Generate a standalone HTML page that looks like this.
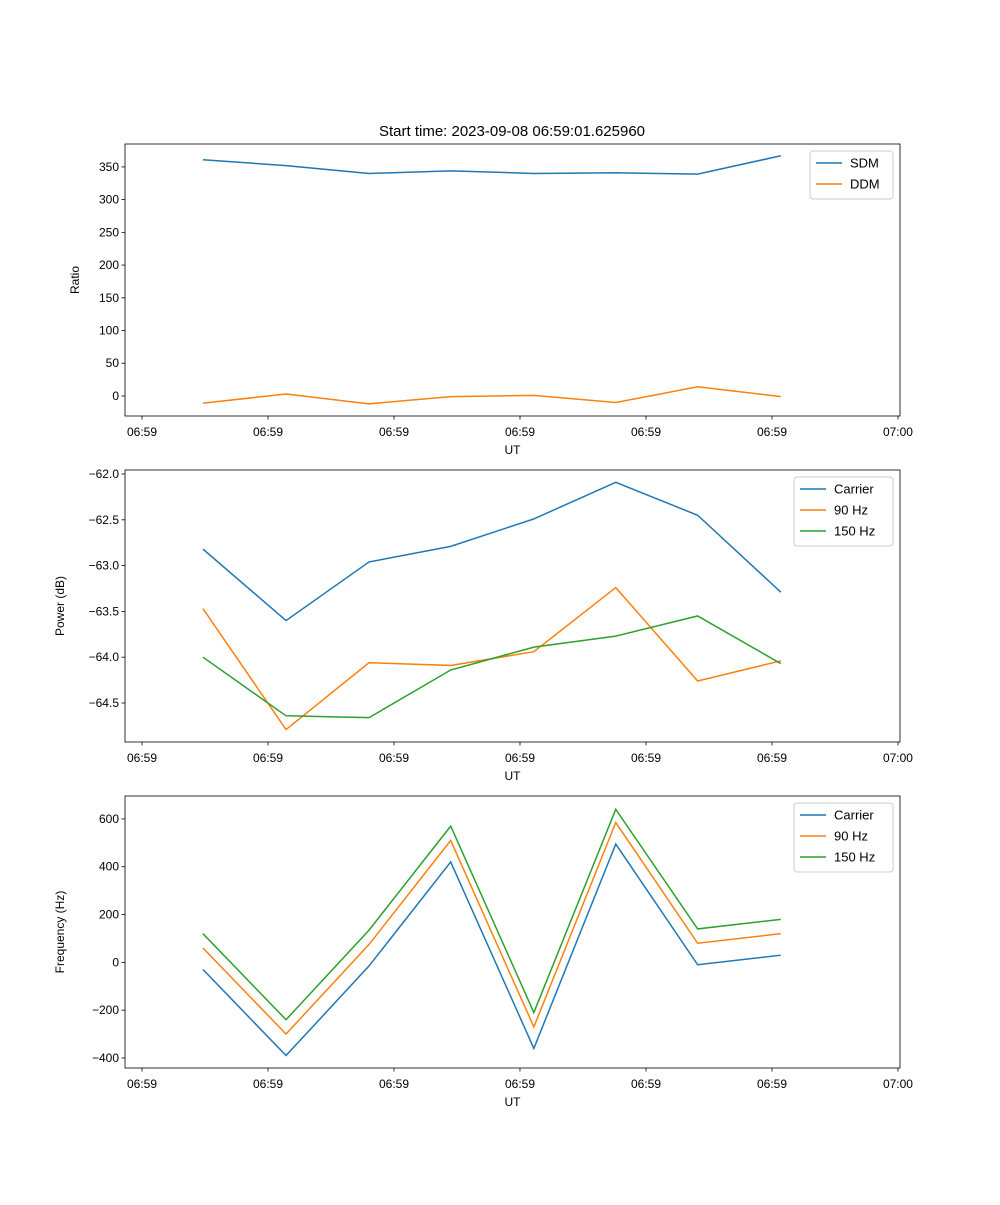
<!DOCTYPE html>
<html><head><meta charset="utf-8"><style>body{margin:0;background:#fff}svg{font-family:"Liberation Sans","DejaVu Sans",sans-serif}</style></head>
<body>
<svg id="c" width="1000" height="1200"></svg>
<script>
const times = [4.84, 11.43, 18.02, 24.5, 31.1, 37.6, 44.1, 50.7];
const xTickVals = [0, 10, 20, 30, 40, 50, 60];
const xTickLabels = ["06:59","06:59","06:59","06:59","06:59","06:59","07:00"];
const sdm = [361, 352, 340, 344, 340, 341, 339, 367];
const ddm = [-11, 3, -12, -1, 1, -10, 14, -1];
const powCarrier = [-62.82, -63.60, -62.96, -62.79, -62.49, -62.09, -62.45, -63.29];
const pow90 = [-63.47, -64.79, -64.06, -64.09, -63.94, -63.24, -64.26, -64.04];
const pow150 = [-64.00, -64.64, -64.66, -64.14, -63.89, -63.77, -63.55, -64.07];
const freqCarrier = [-30, -390, -15, 420, -360, 495, -10, 30];
const freq90 = [60, -300, 75, 510, -270, 585, 80, 120];
const freq150 = [120, -240, 135, 570, -210, 640, 140, 180];
const ticks1 = [0,50,100,150,200,250,300,350];
const ticks2 = [-64.5,-64.0,-63.5,-63.0,-62.5,-62.0];
const ticks3 = [-400,-200,0,200,400,600];

const svg=document.getElementById('c');
const NS='http://www.w3.org/2000/svg';
function mk(t,a,p){const e=document.createElementNS(NS,t);for(const k in a)e.setAttribute(k,a[k]);(p||svg).appendChild(e);return e;}
const X0=125,X1=900,xmin=-1.35,xmax=60.16;
const xs=v=>X0+(v-xmin)/(xmax-xmin)*(X1-X0);
const C=['#1f77b4','#ff7f0e','#2ca02c'];
function panel(name,top,bot,ymin,ymax,yt,fmt,ylabel,series,labels,legW,legX){
  const g=mk('g',{});
  
  
  const ys=v=>bot-(v-ymin)/(ymax-ymin)*(bot-top);
  series.forEach((s,i)=>{
    const p=mk('polyline',{points:s.map((v,j)=>xs(times[j])+','+ys(v)).join(' '),fill:'none',stroke:C[i],'stroke-width':1.5},g);
    
    
  });
  mk('rect',{x:X0,y:top,width:X1-X0,height:bot-top,fill:'none',stroke:'#000','stroke-width':0.8},g);
  xTickVals.forEach((v,i)=>{const x=xs(v);mk('line',{x1:x,x2:x,y1:bot,y2:bot+3.5,stroke:'#000','stroke-width':0.8},g);
    const t=mk('text',{x:x,y:bot+20,'font-size':12,'text-anchor':'middle'},g);t.textContent=xTickLabels[i];});
  yt.forEach(v=>{const y=ys(v);mk('line',{x1:X0-3.5,x2:X0,y1:y,y2:y,stroke:'#000','stroke-width':0.8},g);
    const t=mk('text',{x:X0-6,y:y+4,'font-size':12,'text-anchor':'end'},g);t.textContent=fmt(v);});
  const xl=mk('text',{x:(X0+X1)/2,y:bot+38,'font-size':12,'text-anchor':'middle'},g);xl.textContent='UT';
  
  const yl=mk('text',{x:0,y:0,'font-size':12,'text-anchor':'middle',transform:`translate(${name==='ratio-panel'?79:64},${(top+bot)/2}) rotate(-90)`},g);yl.textContent=ylabel;
  
  const lg=mk('g',{},g);
  
  
  mk('rect',{x:legX,y:top+7,width:legW,height:labels.length*21+6,rx:3,fill:'#fff',stroke:'#ccc','stroke-width':1},lg);
  labels.forEach((l,i)=>{const y=top+19+i*21;
    mk('line',{x1:legX+6,x2:legX+32,y1:y,y2:y,stroke:C[i],'stroke-width':1.5},lg);
    const t=mk('text',{x:legX+40,y:y+4.5,'font-size':13},lg);t.textContent=l;});
}
const tt=mk('text',{x:512,y:136,'font-size':15,'text-anchor':'middle'});tt.textContent='Start time: 2023-09-08 06:59:01.625960';

panel('ratio-panel',144,416,-30.6,385,ticks1,v=>String(v),'Ratio',[sdm,ddm],['SDM','DDM'],83,810);
panel('power-panel',470,742,-64.926,-61.956,ticks2,v=>'\u2212'+Math.abs(v).toFixed(1),'Power (dB)',[powCarrier,pow90,pow150],['Carrier','90 Hz','150 Hz'],99,794);
panel('frequency-panel',796,1068,-442,696,ticks3,v=>v<0?'\u2212'+Math.abs(v):String(v),'Frequency (Hz)',[freqCarrier,freq90,freq150],['Carrier','90 Hz','150 Hz'],99,794);
</script>
</body></html>
